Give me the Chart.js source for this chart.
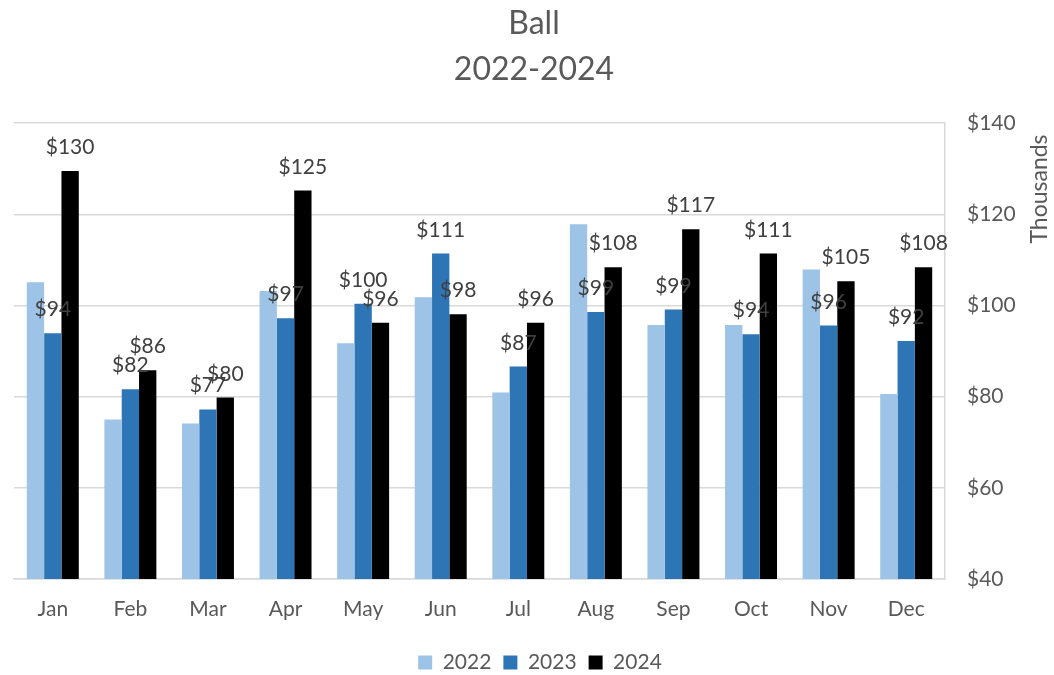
<!DOCTYPE html>
<html><head><meta charset="utf-8">
<script src="https://cdn.jsdelivr.net/npm/chart.js@4.4.1/dist/chart.umd.min.js"></script>
<style>html,body{margin:0;padding:0;background:#fff}canvas{display:block}</style>
</head><body>
<canvas id="c" width="1054" height="675"></canvas>
<script>
const months = ['Jan','Feb','Mar','Apr','May','Jun','Jul','Aug','Sep','Oct','Nov','Dec'];
const seriesNames = ['2022','2023','2024'];
const values2022 = [105.1, 75.0, 74.1, 103.2, 91.7, 101.8, 80.9, 117.8, 95.7, 95.7, 107.9, 80.6];
const values2023 = [93.9, 81.6, 77.2, 97.2, 100.4, 111.4, 86.6, 98.6, 99.1, 93.7, 95.6, 92.2];
const values2024 = [129.5, 85.8, 79.8, 125.2, 96.2, 98.1, 96.2, 108.4, 116.7, 111.4, 105.3, 108.4];
const yTickValues = [40, 60, 80, 100, 120, 140];
const titleLines = ['Ball', '2022-2024'];
const yAxisTitle = 'Thousands';

const FONT = 'Lato';
const GRAY = '#595959';

const dataLabels = {
  id: 'dataLabels',
  afterDatasetsDraw(chart) {
    const ctx = chart.ctx;
    ctx.save();
    ctx.font = '21px ' + FONT;
    ctx.fillStyle = '#404040';
    ctx.textAlign = 'center';
    ctx.textBaseline = 'alphabetic';
    [1, 2].forEach(di => {
      const meta = chart.getDatasetMeta(di);
      meta.data.forEach((el, i) => {
        const v = chart.data.datasets[di].data[i];
        ctx.fillText('$' + Math.round(v), el.x, el.y - 17);
      });
    });
    ctx.restore();
  }
};

const axisTitle = {
  id: 'axisTitle',
  afterDraw(chart) {
    const ctx = chart.ctx;
    ctx.save();
    ctx.font = '23px ' + FONT;
    ctx.fillStyle = GRAY;
    ctx.textAlign = 'center';
    ctx.textBaseline = 'middle';
    ctx.translate(1040, 189);
    ctx.rotate(-Math.PI / 2);
    ctx.fillText(yAxisTitle, 0, 0);
    ctx.restore();
  }
};

const legendShift = {
  id: 'legendShift',
  afterLayout(chart) {
    if (chart.legend) {
      chart.legend.left += 6;
      chart.legend.right += 6;
    }
  }
};

new Chart(document.getElementById('c'), {
  type: 'bar',
  data: {
    labels: months,
    datasets: [
      { label: seriesNames[0], data: values2022, backgroundColor: '#9DC3E6' },
      { label: seriesNames[1], data: values2023, backgroundColor: '#2E75B6' },
      { label: seriesNames[2], data: values2024, backgroundColor: '#000000' }
    ]
  },
  options: {
    responsive: false,
    animation: false,
    devicePixelRatio: 1,
    datasets: { bar: { categoryPercentage: 0.67, barPercentage: 1.0, borderWidth: 0 } },
    layout: { padding: { left: 14, right: 0, top: 1, bottom: -8 } },
    plugins: {
      title: {
        display: true,
        text: titleLines,
        color: GRAY,
        font: { family: FONT, size: 32, weight: 'normal', lineHeight: 1.44 },
        padding: { top: 0, bottom: 30 }
      },
      legend: {
        display: true,
        position: 'bottom',
        labels: {
          boxWidth: 14,
          boxHeight: 14,
          padding: 12,
          color: GRAY,
          font: { family: FONT, size: 21 }
        }
      },
      tooltip: { enabled: false }
    },
    scales: {
      x: {
        grid: { display: false, drawTicks: false },
        border: { display: true, color: '#D9D9D9', width: 1.5 },
        ticks: { color: GRAY, font: { family: FONT, size: 21 }, padding: 18, maxRotation: 0 },
        afterFit(scale) { scale.height = 61; }
      },
      y: {
        position: 'right',
        min: yTickValues[0],
        max: yTickValues[yTickValues.length - 1],
        afterBuildTicks(scale) { scale.ticks = yTickValues.map(v => ({ value: v })); },
        afterFit(scale) { scale.width = 109; },
        grid: { color: '#D9D9D9', lineWidth: 1.5, drawTicks: false },
        border: { display: true, color: '#D9D9D9', width: 1.5 },
        ticks: {
          color: GRAY,
          font: { family: FONT, size: 21 },
          padding: 22,
          callback: v => '$' + v
        }
      }
    }
  },
  plugins: [dataLabels, axisTitle, legendShift]
});
</script>
</body></html>
